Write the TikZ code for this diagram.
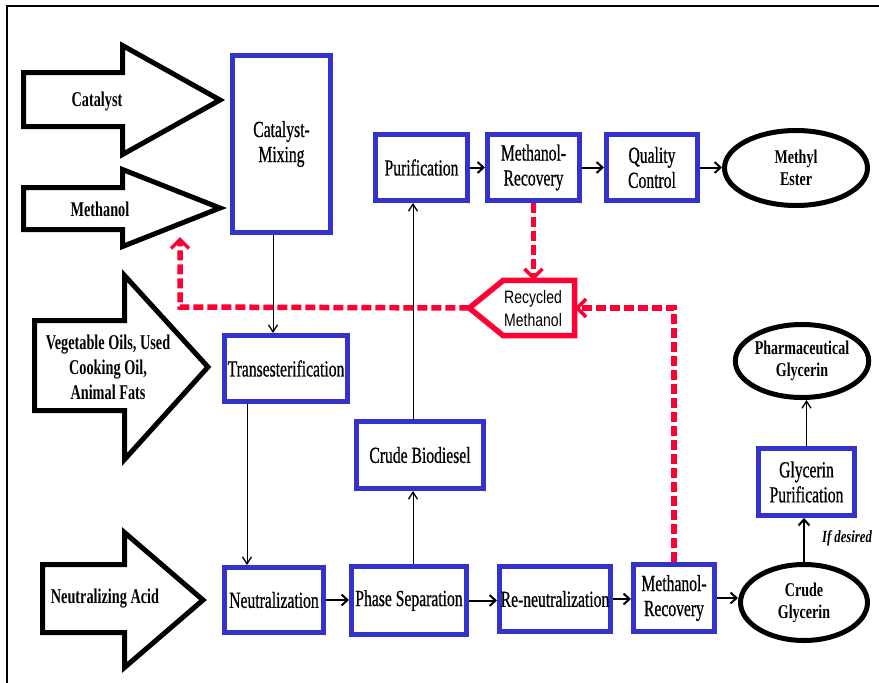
\documentclass[tikz,border=0pt]{standalone}
\usepackage{fontspec}
\setmainfont{Liberation Serif}
\newfontfamily\condf{Liberation Serif}[FakeStretch=0.68, FakeBold=0.6]
\newfontfamily\conda{Liberation Serif}[FakeStretch=0.68]
\newfontfamily\conde{Liberation Serif}[FakeStretch=0.72]
\newfontfamily\condi{Liberation Serif}[FakeStretch=0.75]
\newfontfamily\sansc{Liberation Sans}[FakeStretch=0.78]
\usetikzlibrary{arrows.meta,calc,shapes.geometric}
\definecolor{boxblue}{RGB}{51,51,204}
\definecolor{recred}{RGB}{255,0,51}
\begin{document}
\begin{tikzpicture}[x=1pt,y=-1pt,
  txt/.style={align=center, inner sep=0pt, font=\condf\fontsize{23}{25}\selectfont},
  arrtxt/.style={align=center, inner sep=0pt, font=\conda\bfseries\fontsize{21}{25}\selectfont},
  box/.style={txt, draw=boxblue, line width=5pt, fill=white},
  ell/.style={align=center, inner sep=0pt, font=\conde\bfseries\fontsize{19.5}{22}\selectfont, draw=black, ellipse, line width=5pt, fill=white},
  bigarrow/.style={draw=black, line width=5pt, line join=miter, fill=white},
  thinarr/.style={draw=black, line width=1pt, -{Straight Barb[length=7pt,width=9pt,line width=1.3pt]}},
  shortarr/.style={draw=black, line width=2pt, -{Straight Barb[length=6pt,width=11pt,line width=2pt]}},
  recyc/.style={draw=recred, line width=5.5pt, dash pattern=on 10pt off 4pt, -{Straight Barb[length=9pt,width=18pt,line width=3.5pt]}}
]
\useasboundingbox (0,0) rectangle (879,683);
\fill[white] (0,0) rectangle (879,683);
% frame
\draw[line width=2.5pt] (879,6) -- (7,6) -- (7,683);

% big input arrows
\draw[bigarrow] (23.5,72.5) -- (122.5,72.5) -- (122.5,45.5) -- (220,100) -- (122.5,154.5) -- (122.5,126.5) -- (23.5,126.5) -- cycle;
\node[arrtxt] (tcat) at (97,101) {Catalyst};
\draw[bigarrow] (23.5,187.5) -- (122.5,187.5) -- (122.5,169.5) -- (220,208) -- (122.5,246.5) -- (122.5,229.5) -- (23.5,229.5) -- cycle;
\node[arrtxt] (tmeth) at (100,209) {Methanol};
\draw[bigarrow] (34.5,320.5) -- (124.5,320.5) -- (124.5,275.5) -- (208,367) -- (124.5,459.5) -- (124.5,410.5) -- (34.5,410.5) -- cycle;
\node[arrtxt] (tveg) at (108,367) {Vegetable Oils, Used\\Cooking Oil,\\Animal Fats};
\draw[bigarrow] (42.5,564.5) -- (124.5,564.5) -- (124.5,532.5) -- (203,600) -- (124.5,667.5) -- (124.5,632.5) -- (42.5,632.5) -- cycle;
\node[arrtxt] (tacid) at (105,599) {Neutralizing Acid};

% boxes
\node[box, minimum width=98pt, minimum height=177pt] (cm) at (281.5,144) {Catalyst-\\Mixing};
\node[box, minimum width=123pt, minimum height=66pt] (tr) at (286,368.5) {Transesterification};
\node[box, minimum width=99pt, minimum height=65pt] (ne) at (274,600) {Neutralization};
\node[box, minimum width=115pt, minimum height=68pt] (ph) at (409,600.5) {Phase Separation};
\node[box, minimum width=111pt, minimum height=65pt] (rn) at (555,599) {Re-neutralization};
\node[box, minimum width=81pt, minimum height=67pt] (mr2) at (674,598) {Methanol-\\Recovery};
\node[box, minimum width=127pt, minimum height=67pt] (bio) at (420,455) {Crude Biodiesel};
\node[box, minimum width=92pt, minimum height=66pt] (pu) at (421.5,167.5) {Purification};
\node[box, minimum width=92pt, minimum height=66pt] (mr1) at (533.5,167.5) {Methanol-\\Recovery};
\node[box, minimum width=91pt, minimum height=66pt] (qc) at (652,167.5) {Quality\\Control};
\node[box, minimum width=96pt, minimum height=67pt] (gp) at (806.5,482) {Glycerin\\Purification};

% ellipses
\node[ell, minimum width=143pt, minimum height=75pt] (me) at (796,168) {Methyl\\Ester};
\node[ell, minimum width=127pt, minimum height=76pt] (cg) at (804,602.5) {Crude\\Glycerin};
\node[ell, minimum width=129pt, minimum height=73pt] (pg) at (802,361) {Pharmaceutical\\Glycerin};

% recycled methanol
\node[minimum width=105pt, minimum height=55pt, inner sep=0pt] (rm) at (522,308) {};
\draw[draw=recred, line width=5.5pt, line join=miter, fill=white]
  (rm.west) -- ([xshift=34pt]rm.north west) -- (rm.north east) -- (rm.south east) -- ([xshift=34pt]rm.south west) -- cycle;
\node[align=center, inner sep=0pt, font=\sansc\fontsize{18}{23}\selectfont] (rmt) at (533,309) {Recycled\\Methanol};

% black connectors
\draw[thinarr] ([xshift=-8.5pt]cm.south) -- ([xshift=-8.5pt]cm.south |- tr.north);
\draw[thinarr] ([xshift=-39pt]tr.south) -- ([xshift=-39pt]tr.south |- ne.north);
\draw[thinarr] ([xshift=4pt]ph.north) -- ([xshift=4pt]ph.north |- bio.south);
\draw[thinarr] ([xshift=-7pt]bio.north) -- ([xshift=-7pt]bio.north |- pu.south);
\draw[shortarr] (ne.east) -- (ne.east -| ph.west);
\draw[shortarr] (ph.east) -- (ph.east -| rn.west);
\draw[shortarr] (rn.east) -- (rn.east -| mr2.west);
\draw[shortarr] (mr2.east) -- (mr2.east -| cg.west);
\draw[shortarr] (pu.east) -- (pu.east -| mr1.west);
\draw[shortarr] (mr1.east) -- (mr1.east -| qc.west);
\draw[shortarr] (qc.east) -- (qc.east -| me.west);
\draw[shortarr] (cg.north) -- (cg.north |- gp.south);
\draw[thinarr, line width=1.5pt] (gp.north) -- (gp.north |- pg.south);
\node[inner sep=0pt, font=\condi\itshape\bfseries\fontsize{17}{20}\selectfont] (ifd) at (847,538) {If desired};

% red recycle paths
\coordinate (rc) at (180,307);
\coordinate (rtip) at (180,237);
\draw[recyc] (rm.west) -- (rc) -- (rtip);
\draw[recyc] (mr1.south) -- (mr1.south |- rm.north);
\draw[recyc] (mr2.north) -- (mr2.north |- rm.east) -- (rm.east);
\end{tikzpicture}
\end{document}
